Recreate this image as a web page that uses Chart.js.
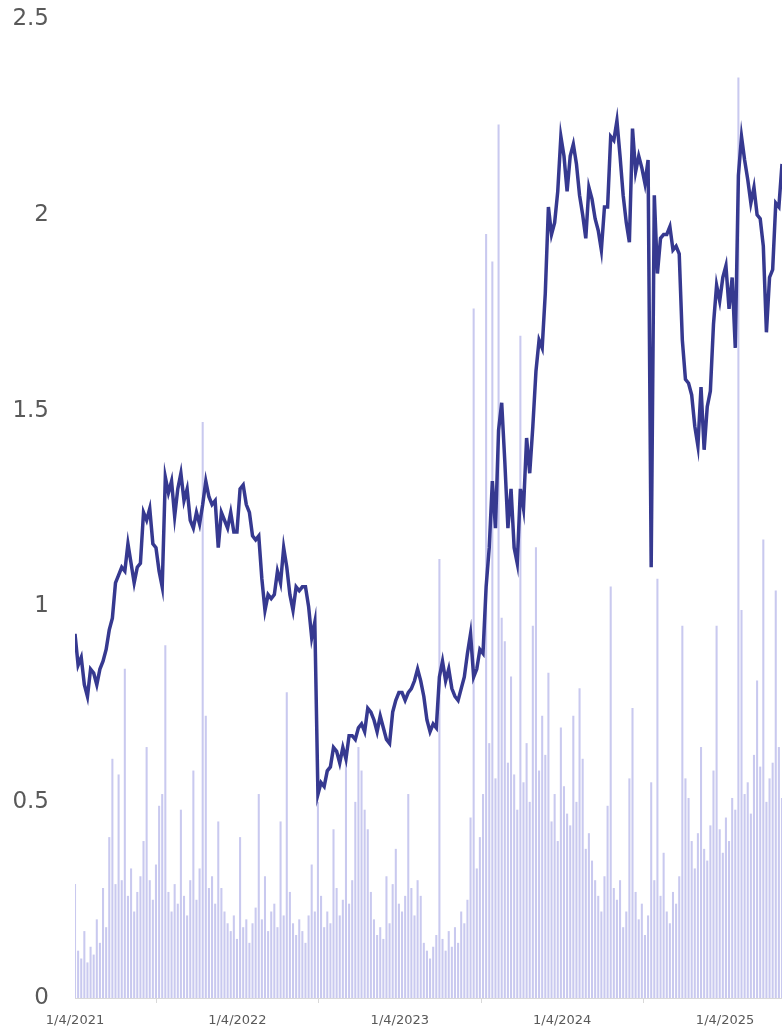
<!DOCTYPE html>
<html>
<head>
<meta charset="utf-8">
<script src="https://cdn.jsdelivr.net/npm/chart.js@4/dist/chart.umd.min.js"></script>
<style>
  html, body { margin: 0; padding: 0; background: #fff; }
  #wrap { width: 782px; height: 1031px; }
</style>
</head>
<body>
<div id="wrap"><canvas id="price-chart"></canvas></div>
<script>
// weekly closes, first week starts 1/4/2021
const prices = [
  0.93, 0.85, 0.87, 0.80, 0.77, 0.84, 0.83, 0.80, 0.84, 0.86,
  0.89, 0.94, 0.97, 1.06, 1.08, 1.10, 1.09, 1.16, 1.11, 1.06,
  1.10, 1.11, 1.24, 1.22, 1.25, 1.16, 1.15, 1.09, 1.05, 1.33,
  1.29, 1.32, 1.23, 1.30, 1.34, 1.27, 1.30, 1.22, 1.20, 1.24,
  1.21, 1.26, 1.32, 1.28, 1.26, 1.27, 1.15, 1.24, 1.22, 1.20,
  1.24, 1.19, 1.19, 1.30, 1.31, 1.26, 1.24, 1.18, 1.17, 1.18,
  1.07, 0.99, 1.03, 1.02, 1.03, 1.09, 1.06, 1.15, 1.10, 1.03,
  0.99, 1.05, 1.04, 1.05, 1.05, 1.00, 0.92, 0.96, 0.52, 0.55,
  0.54, 0.58, 0.59, 0.64, 0.63, 0.60, 0.64, 0.61, 0.67, 0.67,
  0.66, 0.69, 0.70, 0.68, 0.74, 0.73, 0.71, 0.68, 0.72, 0.69,
  0.66, 0.65, 0.73, 0.76, 0.78, 0.78, 0.76, 0.78, 0.79, 0.81,
  0.84, 0.81, 0.77, 0.71, 0.68, 0.70, 0.69, 0.82, 0.86, 0.81,
  0.84, 0.79, 0.77, 0.76, 0.79, 0.82, 0.88, 0.93, 0.82, 0.84,
  0.89, 0.88, 1.05, 1.15, 1.32, 1.20, 1.45, 1.52, 1.37, 1.20,
  1.30, 1.15, 1.11, 1.30, 1.25, 1.43, 1.34, 1.46, 1.60, 1.68,
  1.66, 1.80, 2.02, 1.95, 1.98, 2.06, 2.20, 2.15, 2.06, 2.15,
  2.18, 2.13, 2.05, 2.00, 1.94, 2.07, 2.04, 1.99, 1.96, 1.91,
  2.02, 2.02, 2.20, 2.19, 2.24, 2.15, 2.05, 1.98, 1.93, 2.22,
  2.11, 2.15, 2.12, 2.08, 2.14, 1.10, 2.05, 1.85, 1.94, 1.95,
  1.95, 1.97, 1.91, 1.92, 1.90, 1.68, 1.58, 1.57, 1.54, 1.46,
  1.41, 1.56, 1.40, 1.51, 1.55, 1.72, 1.82, 1.78, 1.84, 1.87,
  1.76, 1.84, 1.66, 2.10, 2.20, 2.14, 2.09, 2.03, 2.07, 2.00,
  1.99, 1.92, 1.70, 1.84, 1.86, 2.03, 2.02, 2.13
];

// weekly volume, drawn on the same scale as the price
const volumes = [
  0.29, 0.12, 0.10, 0.17, 0.09, 0.13, 0.11, 0.20, 0.14, 0.28,
  0.18, 0.41, 0.61, 0.29, 0.57, 0.30, 0.84, 0.26, 0.33, 0.22,
  0.27, 0.31, 0.40, 0.64, 0.30, 0.25, 0.34, 0.49, 0.52, 0.90,
  0.27, 0.22, 0.29, 0.24, 0.48, 0.26, 0.21, 0.30, 0.58, 0.25,
  0.33, 1.47, 0.72, 0.28, 0.31, 0.24, 0.45, 0.28, 0.22, 0.19,
  0.17, 0.21, 0.15, 0.41, 0.18, 0.20, 0.14, 0.19, 0.23, 0.52,
  0.20, 0.31, 0.17, 0.22, 0.24, 0.18, 0.45, 0.21, 0.78, 0.27,
  0.19, 0.16, 0.20, 0.17, 0.14, 0.21, 0.34, 0.22, 0.50, 0.26,
  0.18, 0.22, 0.19, 0.43, 0.28, 0.21, 0.25, 0.60, 0.24, 0.30,
  0.50, 0.64, 0.58, 0.48, 0.43, 0.27, 0.20, 0.16, 0.18, 0.15,
  0.31, 0.19, 0.29, 0.38, 0.24, 0.22, 0.26, 0.52, 0.28, 0.21,
  0.30, 0.26, 0.14, 0.12, 0.10, 0.13, 0.16, 1.12, 0.15, 0.12,
  0.17, 0.13, 0.18, 0.14, 0.22, 0.19, 0.25, 0.46, 1.76, 0.33,
  0.41, 0.52, 1.95, 0.65, 1.88, 0.56, 2.23, 0.97, 0.91, 0.60,
  0.82, 0.57, 0.48, 1.69, 0.55, 0.65, 0.50, 0.95, 1.15, 0.58,
  0.72, 0.62, 0.83, 0.45, 0.52, 0.40, 0.69, 0.54, 0.47, 0.44,
  0.72, 0.50, 0.79, 0.61, 0.38, 0.42, 0.35, 0.30, 0.26, 0.22,
  0.31, 0.49, 1.05, 0.28, 0.25, 0.30, 0.18, 0.22, 0.56, 0.74,
  0.27, 0.20, 0.24, 0.16, 0.21, 0.55, 0.30, 1.07, 0.26, 0.37,
  0.22, 0.19, 0.27, 0.24, 0.31, 0.95, 0.56, 0.51, 0.40, 0.33,
  0.42, 0.64, 0.38, 0.35, 0.44, 0.58, 0.95, 0.43, 0.37, 0.46,
  0.40, 0.51, 0.48, 2.35, 0.99, 0.52, 0.55, 0.47, 0.62, 0.81,
  0.59, 1.17, 0.50, 0.56, 0.60, 1.04, 0.64, 0.51
];

const startDate  = '2021-01-04';
const tickLabels = ['1/4/2021', '1/4/2022', '1/4/2023', '1/4/2024', '1/4/2025'];
const tickDates  = ['2021-01-04', '2022-01-04', '2023-01-04', '2024-01-04', '2025-01-04'];
const yTicks     = [0, 0.5, 1, 1.5, 2, 2.5];

const WEEK = 7 * 24 * 3600 * 1000;
const weekOf = d => (Date.parse(d) - Date.parse(startDate)) / WEEK;
const tickPos = tickDates.map(weekOf);

const linePts = prices.map((v, i) => ({ x: i, y: v }));
const volPts  = volumes.map((v, i) => ({ x: i, y: v }));

const ctx = document.getElementById('price-chart').getContext('2d');

new Chart(ctx, {
  type: 'bar',
  data: {
    datasets: [
      {
        type: 'line',
        data: linePts,
        borderColor: '#363990',
        borderWidth: 3.5,
        pointRadius: 0,
        tension: 0,
        order: 1,
      },
      {
        type: 'bar',
        data: volPts,
        backgroundColor: 'rgba(120, 120, 215, 0.4)',
        borderWidth: 0,
        barThickness: 1.4,
        order: 2,
      },
    ],
  },
  options: {
    responsive: true,
    maintainAspectRatio: false,
    animation: false,
    layout: { padding: { top: 19, right: 0, left: 0, bottom: 0 } },
    plugins: {
      legend: { display: false },
      tooltip: { enabled: false },
    },
    scales: {
      x: {
        type: 'linear',
        min: 0,
        max: prices.length - 1,
        offset: false,
        grid: {
          display: true,
          drawOnChartArea: false,
          drawTicks: true,
          tickLength: 5,
          color: '#d9d9d9',
        },
        border: { display: true, color: '#d9d9d9', width: 1 },
        afterBuildTicks: axis => {
          axis.ticks = tickPos.map(v => ({ value: v }));
        },
        ticks: {
          color: '#595959',
          font: { family: 'DejaVu Sans', size: 13 },
          maxRotation: 0,
          autoSkip: false,
          padding: 10,
          callback: (v, i) => tickLabels[i],
        },
        afterFit: axis => {
          axis.height = 33;
          axis.paddingLeft = 0;
          axis.paddingRight = 0;
        },
      },
      y: {
        min: 0,
        max: 2.5,
        grid: { display: false },
        border: { display: false },
        afterBuildTicks: axis => {
          axis.ticks = yTicks.map(v => ({ value: v }));
        },
        ticks: {
          color: '#595959',
          font: { family: 'DejaVu Sans', size: 23 },
          padding: 18,
          callback: v => String(v),
        },
        afterFit: axis => {
          axis.width = 75;
          axis.paddingTop = 0;
          axis.paddingBottom = 0;
        },
      },
    },
  },
});
</script>
</body>
</html>
